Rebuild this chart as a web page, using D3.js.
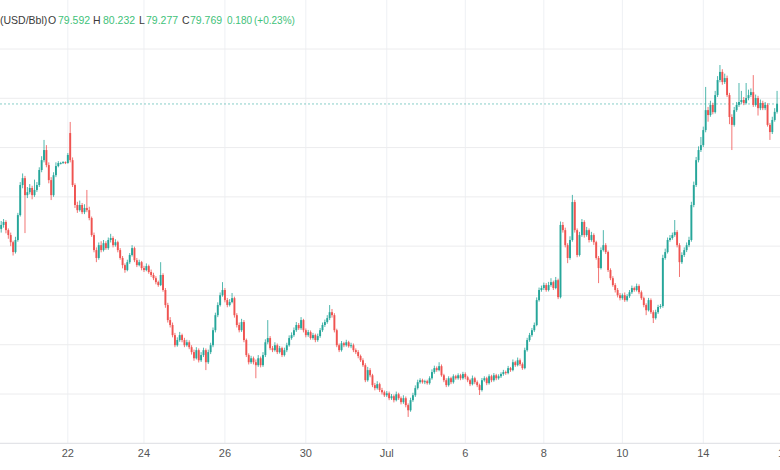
<!DOCTYPE html>
<html><head><meta charset="utf-8">
<script src="https://cdn.jsdelivr.net/npm/d3@7"></script>
<style>html,body{margin:0;padding:0;background:#fff;overflow:hidden}</style>
</head><body><svg id="c" width="780" height="470"></svg>
<script>
// Hourly candles (USD/Bbl)
const opens=[
74.70,74.86,74.98,74.65,74.45,74.16,73.76,74.25,75.26,76.48,
76.76,76.07,76.19,76.36,76.07,76.28,76.48,77.09,77.49,77.90,
77.29,76.68,76.07,76.88,77.25,77.37,77.37,77.41,77.37,78.59,
77.49,76.48,75.67,75.46,75.67,75.38,75.55,75.46,75.14,74.45,
73.84,73.52,74.04,73.84,74.12,73.92,74.25,74.33,74.04,74.16,
73.84,73.52,73.23,73.03,73.35,73.64,73.92,73.43,73.23,73.35,
73.11,73.03,73.19,72.95,72.83,72.70,72.54,72.42,72.83,72.22,
71.61,71.00,70.80,70.39,69.98,70.19,70.39,70.19,69.98,70.10,
69.90,69.70,69.45,69.78,69.37,69.58,69.78,69.29,69.70,69.98,
70.59,71.20,71.61,72.01,72.22,71.81,71.61,71.73,71.89,71.20,
70.80,70.59,70.92,70.19,69.58,69.29,69.45,69.29,69.17,69.45,
69.17,69.58,70.10,70.27,69.86,69.78,69.98,69.70,69.86,69.58,
69.78,69.98,70.27,70.39,70.59,70.80,70.67,71.00,70.59,70.39,
70.51,70.27,70.39,70.19,70.35,70.59,70.80,70.92,71.08,71.32,
71.20,70.59,69.98,69.78,70.06,69.98,70.10,69.94,69.98,69.78,
69.70,69.54,69.37,69.17,68.56,68.97,68.76,68.36,68.24,68.40,
68.16,68.07,67.95,68.03,67.83,67.91,67.75,67.99,67.83,67.67,
67.83,67.55,67.34,67.75,67.95,68.24,68.48,68.56,68.48,68.52,
68.44,68.64,68.89,69.05,68.97,69.13,68.76,68.56,68.36,68.64,
68.48,68.72,68.64,68.76,68.64,68.81,68.68,68.56,68.40,68.64,
68.48,68.36,68.16,68.56,68.64,68.44,68.72,68.56,68.76,68.64,
68.72,68.81,68.89,68.85,69.05,68.97,69.29,69.17,69.37,69.21,
69.05,69.78,70.19,70.39,70.59,70.80,71.81,72.22,72.30,72.42,
72.22,72.42,72.54,72.30,72.62,71.93,74.86,74.65,74.04,73.52,
74.25,75.79,74.65,73.64,74.45,74.98,74.45,74.65,74.25,74.45,
74.16,73.52,73.11,73.84,74.04,73.76,73.03,72.70,72.42,72.22,
72.01,71.89,72.01,71.81,71.97,72.13,72.30,72.22,72.38,72.13,
71.89,71.61,71.40,71.81,71.32,71.08,71.32,71.53,71.57,73.52,
73.76,74.25,74.33,74.45,74.57,74.04,73.35,73.64,73.84,74.04,
74.25,75.67,76.48,77.49,77.90,78.10,78.71,79.52,79.32,79.73,
79.44,80.13,80.74,81.07,80.66,80.82,80.13,79.24,78.92,79.52,
79.73,79.85,79.93,79.81,80.01,80.13,80.25,79.73,80.01,79.60,
79.81,79.60,79.73,78.92,78.63,79.12,79.45];
const highs=[
75.02,75.10,75.05,74.72,74.55,74.22,74.38,75.35,76.60,76.95,
76.85,76.40,76.52,76.45,76.70,76.60,77.20,77.65,78.31,78.10,
77.40,76.80,77.00,77.40,77.45,77.42,77.45,77.44,77.78,79.04,
77.60,76.55,75.80,75.85,75.75,75.70,76.28,75.60,75.20,74.55,
73.95,74.15,74.20,74.25,74.20,74.35,74.50,74.40,74.28,74.22,
73.92,73.60,73.30,73.45,73.72,74.04,73.98,73.52,73.45,73.40,
73.20,73.30,73.25,73.05,72.92,72.78,72.60,73.35,72.90,72.30,
71.70,71.12,70.90,70.48,70.30,70.52,70.45,70.28,70.20,70.18,
69.98,69.80,69.90,69.85,69.70,69.88,69.85,69.80,70.08,70.70,
71.30,71.72,72.12,72.54,72.30,71.90,71.85,72.10,71.95,71.28,
70.90,71.05,71.00,70.25,69.65,69.55,69.52,69.40,69.58,69.52,
69.70,70.22,71.00,70.35,69.95,70.10,70.05,69.95,69.92,69.88,
70.08,70.38,70.50,70.70,70.92,70.88,71.12,71.05,70.66,70.60,
70.58,70.48,70.45,70.45,70.68,70.90,71.02,71.20,71.61,71.45,
71.28,70.65,70.05,70.15,70.12,70.20,70.16,70.08,70.05,69.85,
69.78,69.60,69.45,69.25,69.10,69.05,68.82,68.45,68.52,68.46,
68.25,68.14,68.12,68.10,68.00,67.98,68.10,68.05,67.90,67.95,
67.90,67.62,67.85,68.05,68.35,68.58,68.64,68.62,68.58,68.58,
68.72,69.00,69.15,69.12,69.29,69.20,68.82,68.64,68.72,68.70,
68.80,68.78,68.84,68.82,68.90,68.88,68.74,68.62,68.75,68.70,
68.55,68.42,68.65,68.72,68.70,68.80,68.78,68.85,68.82,68.80,
68.88,68.98,68.95,69.14,69.10,69.40,69.35,69.48,69.44,69.28,
69.88,70.28,70.48,70.68,70.90,71.92,72.32,72.40,72.52,72.50,
72.55,72.70,72.60,72.75,72.68,75.00,74.98,74.75,74.12,74.40,
76.08,75.88,74.72,74.58,75.10,75.05,74.78,74.72,74.58,74.52,
74.22,73.60,73.95,74.65,74.12,73.82,73.10,72.78,72.50,72.30,
72.10,72.08,72.12,72.05,72.22,72.40,72.36,72.48,72.45,72.20,
71.95,71.68,71.90,71.88,71.40,71.42,71.62,71.65,73.65,73.90,
74.35,74.45,74.55,75.06,74.65,74.12,73.75,73.95,74.15,74.38,
75.80,76.62,77.62,78.05,78.43,78.85,80.46,79.65,79.90,79.82,
80.30,80.90,81.35,81.18,81.00,80.92,80.22,79.35,79.65,79.85,
80.62,80.30,80.05,80.62,80.35,80.40,80.94,80.15,80.10,79.95,
79.90,79.85,79.80,79.00,79.25,79.60,80.30];
const lows=[
74.55,74.75,74.52,74.30,74.00,73.62,73.70,74.18,75.20,76.35,
74.53,75.95,76.10,75.90,76.00,76.20,76.40,77.00,77.40,77.20,
76.55,75.87,76.00,76.80,77.20,77.32,77.34,77.33,77.35,77.40,
76.40,75.55,75.35,75.40,75.30,75.30,75.38,75.05,74.38,73.75,
73.35,73.45,73.75,73.78,73.85,73.85,74.15,73.95,73.98,73.75,
73.45,73.10,72.92,72.98,73.28,73.58,73.35,73.15,73.18,73.02,
72.95,72.98,72.88,72.75,72.62,72.45,72.35,72.38,72.15,71.50,
70.90,70.70,70.30,69.90,69.92,70.12,70.10,69.90,69.92,69.82,
69.60,69.35,69.40,69.28,69.30,69.50,68.97,69.22,69.62,69.90,
70.50,71.12,71.55,71.95,71.72,71.52,71.55,71.68,71.10,70.70,
70.50,70.52,70.10,69.50,69.20,69.22,69.20,68.64,69.10,69.08,
69.10,69.50,70.02,69.78,69.70,69.72,69.62,69.64,69.50,69.52,
69.70,69.92,70.20,70.32,70.52,70.60,70.60,70.50,70.30,70.32,
70.20,70.20,70.10,70.12,70.28,70.52,70.72,70.85,71.00,71.10,
70.50,69.90,69.70,69.72,69.90,69.92,69.88,69.86,69.70,69.62,
69.45,69.30,69.10,68.48,68.50,68.68,68.28,68.15,68.18,68.08,
67.98,67.88,67.88,67.75,67.76,67.66,67.70,67.76,67.58,67.60,
67.46,67.07,67.28,67.68,67.88,68.18,68.42,68.42,68.40,68.38,
68.38,68.58,68.82,68.90,68.92,68.70,68.48,68.28,68.30,68.40,
68.42,68.58,68.58,68.56,68.58,68.60,68.48,68.32,68.35,68.40,
68.28,67.96,68.10,68.50,68.36,68.38,68.48,68.50,68.56,68.58,
68.65,68.74,68.78,68.80,68.90,68.92,69.10,69.12,69.14,68.98,
69.00,69.72,70.12,70.32,70.52,70.75,71.75,72.15,72.22,72.15,
72.16,72.35,72.22,72.25,71.85,71.88,74.55,73.95,73.31,73.45,
74.18,74.55,73.55,73.58,74.38,74.35,74.38,74.15,74.18,74.05,
73.45,72.50,73.05,73.78,73.68,72.95,72.62,72.35,72.12,71.92,
71.80,71.82,71.74,71.75,71.90,72.06,72.15,72.16,72.05,71.82,
71.52,71.20,71.35,71.25,70.88,71.02,71.25,71.46,71.50,73.45,
73.70,74.18,74.26,74.38,73.95,72.75,73.28,73.56,73.76,73.96,
74.18,75.58,76.40,77.40,77.82,78.02,78.62,79.05,79.25,79.35,
79.38,80.05,80.65,80.55,80.58,80.05,78.95,77.90,78.85,79.45,
79.65,79.78,79.72,79.75,79.92,80.05,79.65,79.66,79.30,79.52,
79.52,79.52,78.85,78.31,78.55,79.05,79.38];
const closes=[
74.86,74.98,74.65,74.45,74.16,73.76,74.25,75.26,76.48,76.76,
76.07,76.19,76.36,76.07,76.28,76.48,77.09,77.49,77.90,77.29,
76.68,76.07,76.88,77.25,77.37,77.37,77.41,77.37,77.70,77.49,
76.48,75.67,75.46,75.67,75.38,75.55,75.46,75.14,74.45,73.84,
73.52,74.04,73.84,74.12,73.92,74.25,74.33,74.04,74.16,73.84,
73.52,73.23,73.03,73.35,73.64,73.92,73.43,73.23,73.35,73.11,
73.03,73.19,72.95,72.83,72.70,72.54,72.42,72.83,72.22,71.61,
71.00,70.80,70.39,69.98,70.19,70.39,70.19,69.98,70.10,69.90,
69.70,69.45,69.78,69.37,69.58,69.78,69.29,69.70,69.98,70.59,
71.20,71.61,72.01,72.22,71.81,71.61,71.73,71.89,71.20,70.80,
70.59,70.92,70.19,69.58,69.29,69.45,69.29,69.17,69.45,69.17,
69.58,70.10,70.27,69.86,69.78,69.98,69.70,69.86,69.58,69.78,
69.98,70.27,70.39,70.59,70.80,70.67,71.00,70.59,70.39,70.51,
70.27,70.39,70.19,70.35,70.59,70.80,70.92,71.08,71.32,71.20,
70.59,69.98,69.78,70.06,69.98,70.10,69.94,69.98,69.78,69.70,
69.54,69.37,69.17,68.56,68.97,68.76,68.36,68.24,68.40,68.16,
68.07,67.95,68.03,67.83,67.91,67.75,67.99,67.83,67.67,67.83,
67.55,67.34,67.75,67.95,68.24,68.48,68.56,68.48,68.52,68.44,
68.64,68.89,69.05,68.97,69.13,68.76,68.56,68.36,68.64,68.48,
68.72,68.64,68.76,68.64,68.81,68.68,68.56,68.40,68.64,68.48,
68.36,68.16,68.56,68.64,68.44,68.72,68.56,68.76,68.64,68.72,
68.81,68.89,68.85,69.05,68.97,69.29,69.17,69.37,69.21,69.05,
69.78,70.19,70.39,70.59,70.80,71.81,72.22,72.30,72.42,72.22,
72.42,72.54,72.30,72.62,71.93,74.86,74.65,74.04,73.52,74.25,
75.79,74.65,73.64,74.45,74.98,74.45,74.65,74.25,74.45,74.16,
73.52,73.11,73.84,74.04,73.76,73.03,72.70,72.42,72.22,72.01,
71.89,72.01,71.81,71.97,72.13,72.30,72.22,72.38,72.13,71.89,
71.61,71.40,71.81,71.32,71.08,71.32,71.53,71.57,73.52,73.76,
74.25,74.33,74.45,74.57,74.04,73.35,73.64,73.84,74.04,74.25,
75.67,76.48,77.49,77.90,78.10,78.71,79.52,79.32,79.73,79.44,
80.13,80.74,81.07,80.66,80.82,80.13,79.24,78.92,79.52,79.73,
79.85,79.93,79.81,80.01,80.13,80.25,79.73,80.01,79.60,79.81,
79.60,79.73,78.92,78.63,79.12,79.45,79.77];

// X-axis ticks (bar index of the tick) and their labels
const tickBars=[28,60,94,128,162,195,228,261,295,329];
const tickLabels=["22","24","26","30","Jul","6","8","10","14","18"];
// Horizontal grid prices
const gridPrices=[68,70,72,74,76,78,80,82];
// Legend text pieces
const legendTexts=["(USD/Bbl)","O","79.592","H","80.232","L","79.277","C","79.769","0.180","(+0.23%)"];
const legendIsValue=[false,false,true,false,true,false,true,false,true,true,true];

// ---- layout ----
const W=780,H=470, bottom=443.3;
const slots=330, step=2.38;
const legendX=[0,48,58,93,103,139,146,182,190,227,254];

const svg=d3.select("#c");
svg.append("rect").attr("width",W).attr("height",H).attr("fill","#fff");

const x=d3.scaleLinear().domain([-0.5,slots-0.5]).range([0,slots*step]);
const y=d3.scaleLinear().domain([66,82]).range([bottom,49]);

const n=Math.min(opens.length,highs.length,lows.length,closes.length);
const data=d3.range(n).map(i=>({i,o:opens[i],h:highs[i],l:lows[i],c:closes[i]}));

// grid
const g=svg.append("g");
g.selectAll("line.v").data(tickBars).join("line")
  .attr("x1",d=>x(d)).attr("x2",d=>x(d)).attr("y1",0).attr("y2",bottom)
  .attr("stroke","#eef0f4").attr("stroke-width",1);
g.selectAll("line.h").data(gridPrices).join("line")
  .attr("x1",0).attr("x2",W).attr("y1",d=>y(d)).attr("y2",d=>y(d))
  .attr("stroke","#ececee").attr("stroke-width",1);

// bottom axis line + labels
svg.append("line").attr("x1",0).attr("x2",W).attr("y1",bottom).attr("y2",bottom)
  .attr("stroke","#e3e4e8").attr("stroke-width",1.2);
svg.append("g").selectAll("text").data(tickBars).join("text")
  .attr("x",d=>x(d)).attr("y",457).attr("text-anchor","middle")
  .attr("font-family","'Liberation Sans',Arial,sans-serif").attr("font-size",11)
  .attr("fill","#555").text((d,k)=>tickLabels[k]);

// price line at last close
const last=data[n-1];
svg.append("line").attr("x1",0).attr("x2",W).attr("y1",y(last.c)).attr("y2",y(last.c))
  .attr("stroke","#26a69a").attr("stroke-opacity",0.55).attr("stroke-dasharray","2 2");

// candles
const up="#26a69a", down="#ef5350";
const cg=svg.append("g");
cg.selectAll("line.w").data(data).join("line")
  .attr("x1",d=>x(d.i)).attr("x2",d=>x(d.i))
  .attr("y1",d=>y(d.h)).attr("y2",d=>y(d.l))
  .attr("stroke",d=>d.c>=d.o?up:down).attr("stroke-width",1).attr("stroke-opacity",0.8);
const bw=1.9;
cg.selectAll("rect").data(data).join("rect")
  .attr("x",d=>x(d.i)-bw/2).attr("width",bw)
  .attr("y",d=>y(Math.max(d.o,d.c)))
  .attr("height",d=>Math.max(1,Math.abs(y(d.o)-y(d.c))))
  .attr("fill",d=>d.c>=d.o?up:down);

// legend
svg.append("g").selectAll("text").data(legendTexts).join("text")
  .attr("x",(d,k)=>legendX[k]).attr("y",23.5)
  .attr("font-family","'Liberation Sans',Arial,sans-serif")
  .attr("font-size",(d,k)=>k>=9?10:10.5)
  .attr("fill",(d,k)=>legendIsValue[k]?"#3fc27a":"#3a3a3a").text(d=>d);
</script>
</body></html>
